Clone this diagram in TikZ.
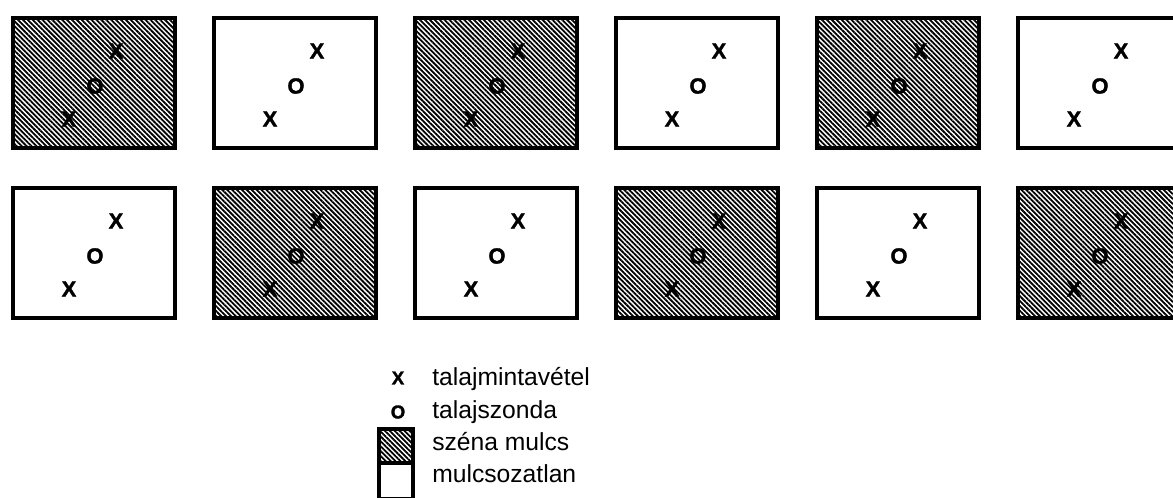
\documentclass[tikz,border=0pt]{standalone}
\usepackage{fontspec}
\setmainfont{Liberation Sans}
\newfontfamily\spotfont{Liberation Sans}[UprightFont={* Bold}, FakeBold=1.5]
\usetikzlibrary{patterns.meta}

\tikzset{
  plot/.style={draw, line width=2.6pt, minimum width=121.5pt, minimum height=97.5pt, inner sep=0pt},
  hay/.style={plot, pattern={Lines[angle=-45, distance=2.6pt, line width=1.35pt]}},
  bare/.style={plot, fill=white},
  spot/.style={font=\spotfont\fontsize{16.5}{17}\selectfont, inner sep=0pt},
  legspot/.style={font=\spotfont\fontsize{14}{15}\selectfont, inner sep=0pt},
  legtext/.style={font=\fontsize{18.5}{20}\selectfont, anchor=base west, inner sep=0pt},
}

\begin{document}
\begin{tikzpicture}[x=0.75pt, y=-0.75pt]
  \clip (0,0) rectangle (1173,497);

  % plots in two rows, hay mulch alternating
  \foreach \c in {1,...,6} {
    \foreach \r in {1,2} {
      \pgfmathsetmacro{\px}{94+201*(\c-1)}
      \pgfmathsetmacro{\py}{83+170*(\r-1)}
      \pgfmathtruncatemacro{\odd}{mod(\c+\r,2)}
      \ifnum\odd=0 \def\kind{hay}\else\def\kind{bare}\fi
      \node[\kind] (P\r\c) at (\px,\py) {};
      \node[spot] (S\r\c) at (\px+22,\py-32) {X};
      \node[spot] (O\r\c) at (\px+1,\py+3) {O};
      \node[spot] (T\r\c) at (\px-25,\py+36) {X};
    }
  }

  % legend
  \node[legspot] (LX) at (398,378) {X};
  \node[legtext] (LXT) at (432,385) {talajmintavétel};
  \node[legspot] (LO) at (398,412) {O};
  \node[legtext] (LOT) at (432,418) {talajszonda};
  \node[hay, minimum width=25.5pt, minimum height=25.5pt] (LH) at (396,446) {};
  \node[legtext] (LHT) at (432,450) {széna mulcs};
  \node[bare, minimum width=25.5pt, minimum height=27pt] (LB) at (396,481) {};
  \node[legtext] (LBT) at (432,482) {mulcsozatlan};
\end{tikzpicture}
\end{document}
